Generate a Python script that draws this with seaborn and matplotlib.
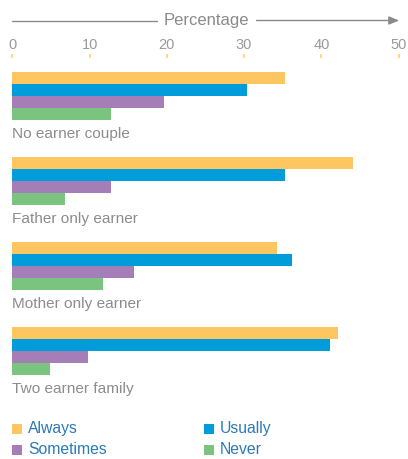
import matplotlib
matplotlib.use("Agg")
import matplotlib.pyplot as plt
from matplotlib.patches import Rectangle
import seaborn as sns
import pandas as pd

categories = ["No earner couple", "Father only earner", "Mother only earner", "Two earner family"]
frequencies = ["Always", "Usually", "Sometimes", "Never"]
always = [35.3, 44.1, 34.2, 42.2]
usually = [30.4, 35.3, 36.2, 41.1]
sometimes = [19.6, 12.8, 15.8, 9.8]
never = [12.8, 6.8, 11.7, 4.9]
x_ticks = [0, 10, 20, 30, 40, 50]

colors = {"Always": "#fec661", "Usually": "#009dda", "Sometimes": "#a57eb7", "Never": "#7bc47f"}

rows = []
for i, c in enumerate(categories):
    for f, vals in zip(frequencies, [always, usually, sometimes, never]):
        rows.append({"category": c, "frequency": f, "value": vals[i]})
df = pd.DataFrame(rows)

sns.set_style("white")
plt.rcParams["font.family"] = ["Liberation Sans", "DejaVu Sans"]

W, H = 408, 459
fig = plt.figure(figsize=(W / 100, H / 100), dpi=100)

ax_left, ax_right = 12.3, 398.7
ax_top, ax_bottom = 58, 400
ax = fig.add_axes([ax_left / W, 1 - ax_bottom / H, (ax_right - ax_left) / W, (ax_bottom - ax_top) / H])

sns.barplot(data=df, y="category", x="value", hue="frequency", hue_order=frequencies,
            order=categories, orient="h", palette=colors, width=48 / 85, saturation=1,
            linewidth=0, legend=False, ax=ax)

unit = 85.0
c0 = 96.0
ax.set_ylim((ax_bottom - c0) / unit, -(c0 - ax_top) / unit)
ax.set_xlim(0, 50)
ax.set_xticks(x_ticks)
ax.xaxis.tick_top()
ax.tick_params(axis="x", which="both", top=True, bottom=False, length=3.2, width=1.2,
               color="#fdd27a", labelcolor="#9a9a9a", labelsize=10.5, pad=1, direction="out")
ax.set_yticks([])
ax.set_xlabel("")
ax.set_ylabel("")
for s in ax.spines.values():
    s.set_visible(False)

for i, c in enumerate(categories):
    ax.text(0, i + 38 / unit, c, ha="left", va="center", fontsize=11.1, color="#8c8c8c")

# Percentage header with arrow
def fx(px):
    return px / W

def fy(py):
    return 1 - py / H

gray = "#8a8a8a"
fig.add_artist(plt.Line2D([fx(12.3), fx(156.5)], [fy(20.5), fy(20.5)], color=gray, lw=1))
fig.text(fx(206), fy(20.5), "Percentage", ha="center", va="center", fontsize=12, color=gray)
ax.annotate("", xy=(fx(399), fy(20.5)), xytext=(fx(256.5), fy(20.5)), xycoords="figure fraction",
            textcoords="figure fraction",
            arrowprops=dict(arrowstyle="-|>,head_length=0.6,head_width=0.25", color=gray, lw=1,
                            shrinkA=0, shrinkB=0))

# Legend
legend_items = [("Always", 12, 428.5), ("Usually", 204, 428.5), ("Sometimes", 12, 450), ("Never", 204, 450)]
for name, px, py in legend_items:
    fig.add_artist(Rectangle((fx(px), fy(py + 5)), 10 / W, 10 / H, transform=fig.transFigure,
                             facecolor=colors[name], edgecolor="none"))
    fig.text(fx(px + 16), fy(py), name, ha="left", va="center", fontsize=11.3, color="#2a7ab8")

fig.savefig("out.png", dpi=100)
